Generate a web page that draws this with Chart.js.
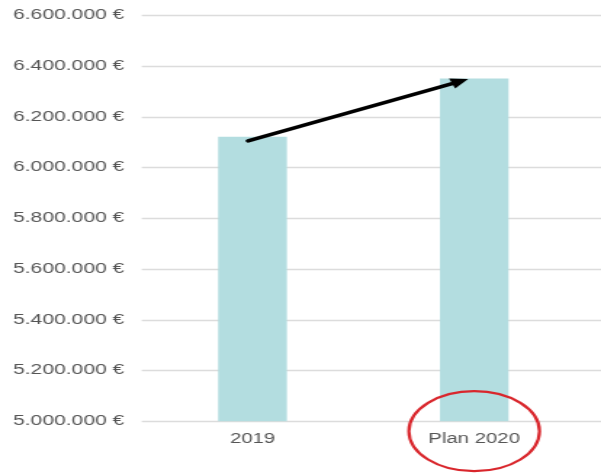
<!DOCTYPE html>
<html>
<head>
<meta charset="utf-8">
<script src="https://cdn.jsdelivr.net/npm/chart.js@4/dist/chart.umd.min.js"></script>
<style>
  html, body { margin: 0; padding: 0; background: #ffffff; overflow: hidden; }
  /* the chart is laid out narrow and widened horizontally */
  #wrap { width: 414px; height: 475px; position: relative; transform: scaleX(1.4517); transform-origin: 0 0; }
</style>
</head>
<body>
<div id="wrap"><canvas id="c"></canvas></div>
<script>
// Revenue 2019 vs. plan 2020
const categories = ['2019', 'Plan 2020'];
const revenue = [6120000, 6350000];
const yTicks = [5000000, 5200000, 5400000, 5600000, 5800000, 6000000, 6200000, 6400000, 6600000];

// Trend arrow: from the 2019 bar to the plan bar (category index, value)
const arrowFrom = [-0.02, 6104000];
const arrowTo = [0.973, 6348000];

const fmt = v => v.toLocaleString('de-DE') + ' €';

// Horizontal grid lines running out to the right edge
const gridPlugin = {
  id: 'fullGrid',
  beforeDatasetsDraw(chart) {
    const { ctx, scales: { y }, chartArea } = chart;
    ctx.save();
    ctx.strokeStyle = '#dcdcdc';
    ctx.lineWidth = 1.5;
    yTicks.forEach(v => {
      const py = Math.round(y.getPixelForValue(v)) + 0.5;
      ctx.beginPath();
      ctx.moveTo(chartArea.left, py);
      ctx.lineTo(chart.width, py);
      ctx.stroke();
    });
    ctx.restore();
  }
};

// Arrow and highlight ring
const notesPlugin = {
  id: 'notes',
  afterDraw(chart) {
    const { ctx, scales: { x, y }, chartArea } = chart;
    const x0 = x.getPixelForValue(arrowFrom[0]), y0 = y.getPixelForValue(arrowFrom[1]);
    const x1 = x.getPixelForValue(arrowTo[0]), y1 = y.getPixelForValue(arrowTo[1]);
    const ang = Math.atan2(y1 - y0, x1 - x0);
    const head = 12, hw = 5.5;
    ctx.save();
    ctx.strokeStyle = '#000';
    ctx.fillStyle = '#000';
    ctx.lineWidth = 3.5;
    ctx.lineCap = 'round';
    ctx.beginPath();
    ctx.moveTo(x0, y0);
    ctx.lineTo(x1 - head * Math.cos(ang), y1 - head * Math.sin(ang));
    ctx.stroke();
    ctx.beginPath();
    ctx.moveTo(x1, y1);
    ctx.lineTo(x1 - head * Math.cos(ang) - hw * Math.sin(ang), y1 - head * Math.sin(ang) + hw * Math.cos(ang));
    ctx.lineTo(x1 - head * Math.cos(ang) + hw * Math.sin(ang), y1 - head * Math.sin(ang) - hw * Math.cos(ang));
    ctx.closePath();
    ctx.fill();

    // red ring around the plan label
    const cx = x.getPixelForValue(1);
    const cy = chartArea.bottom + 10;
    ctx.strokeStyle = '#d9262c';
    ctx.lineWidth = 2.2;
    ctx.beginPath();
    ctx.ellipse(cx, cy, 45, 40, 0, 0, Math.PI * 2);
    ctx.stroke();
    ctx.restore();
  }
};

new Chart(document.getElementById('c'), {
  type: 'bar',
  data: {
    labels: categories,
    datasets: [{
      data: revenue,
      backgroundColor: '#b3dde0',
      categoryPercentage: 0.31,
      barPercentage: 1.0
    }]
  },
  options: {
    responsive: true,
    maintainAspectRatio: false,
    animation: false,
    layout: { padding: { top: 15, right: 11, bottom: 17, left: -3 } },
    plugins: { legend: { display: false }, tooltip: { enabled: false } },
    scales: {
      x: {
        grid: { display: false, drawTicks: false },
        border: { display: false },
        ticks: {
          color: '#555555',
          font: { family: 'Liberation Sans, Arial, sans-serif', size: 14 },
          padding: 10
        }
      },
      y: {
        min: 5000000,
        max: 6600000,
        afterBuildTicks: axis => { axis.ticks = yTicks.map(v => ({ value: v })); },
        afterFit: axis => { axis.paddingTop = 0; axis.paddingBottom = 0; },
        grid: { display: false, drawTicks: false },
        border: { display: false },
        ticks: {
          color: '#555555',
          font: { family: 'Liberation Sans, Arial, sans-serif', size: 14.5 },
          padding: 12,
          callback: v => fmt(v)
        }
      }
    }
  },
  plugins: [gridPlugin, notesPlugin]
});
</script>
</body>
</html>
